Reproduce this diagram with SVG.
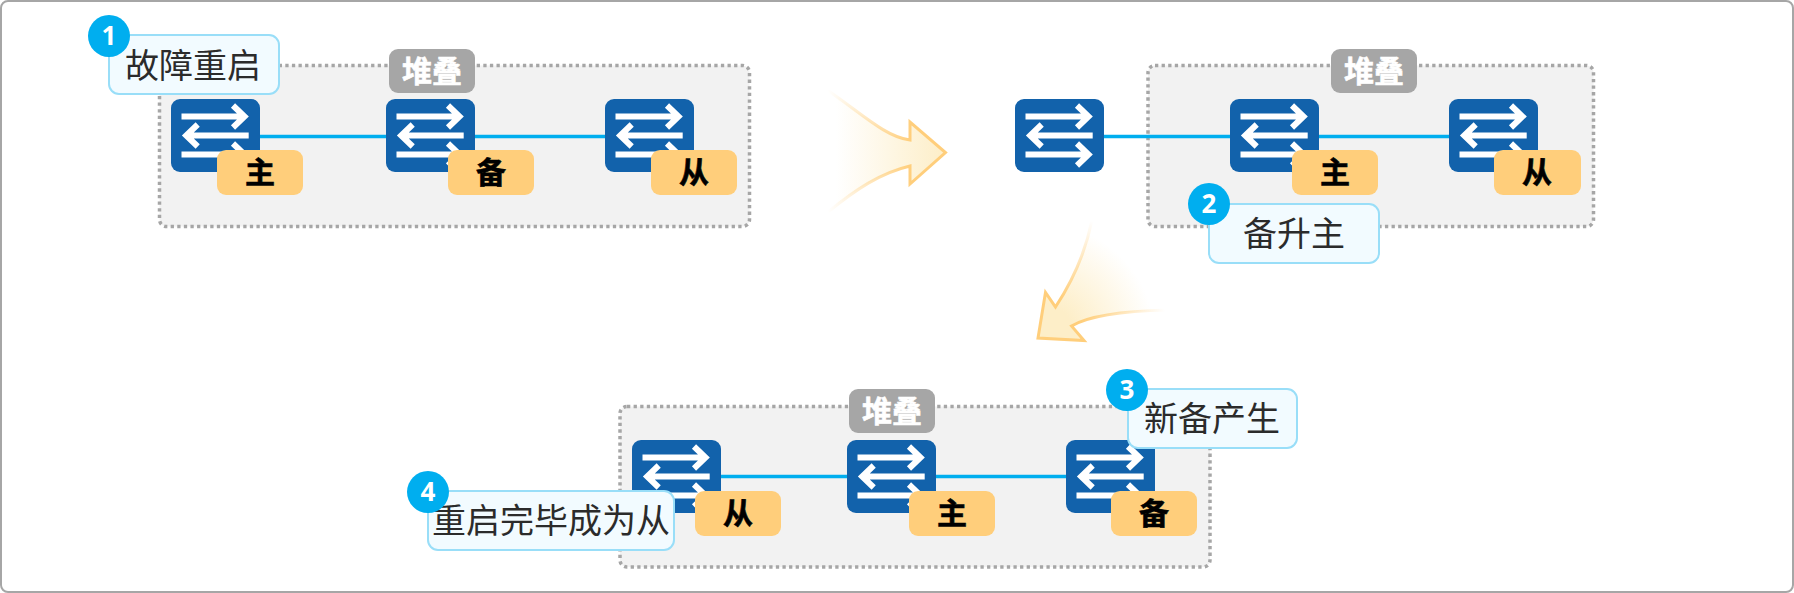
<svg xmlns="http://www.w3.org/2000/svg" width="1794" height="593" viewBox="0 0 1794 593">
<style>
.frame{fill:#fff;stroke:#a6a6a6;stroke-width:2}
.stack{fill:#f2f2f2;stroke:#a6a6a6;stroke-width:3.500;stroke-dasharray:3.300 3.300}
.link{stroke:#00aeef;stroke-width:3.600;fill:none}
.sw{fill:#1262ab}
.swl{stroke:#fff;stroke-width:6;fill:none}
.tag{fill:#ffce7b}
.tagt{font:bold 30px "Noto Sans CJK SC","Liberation Sans",sans-serif;fill:#000;stroke:#000;stroke-width:.6;text-anchor:middle}
.lab{fill:#a6a6a6}
.labt{font:bold 30px "Noto Sans CJK SC","Liberation Sans",sans-serif;fill:#fff;stroke:#fff;stroke-width:.6;text-anchor:middle}
.call{fill:#f2fbff;stroke:#99def8;stroke-width:2}
.callt{font:34px "Noto Sans CJK SC","Liberation Sans",sans-serif;fill:#2b2b2b;text-anchor:middle}
.num{fill:#00aeef}
.numt{font:bold 26px "Open Sans","Liberation Sans",sans-serif;fill:#fff;text-anchor:middle}
</style>
<defs>
<g id="swi">
<rect class="sw" width="89" height="73" rx="9"/>
<path class="swl" d="M10.500 17.500H73.500M62 6.500L73.500 17.500L62 28.500"/>
<path class="swl" d="M77.700 36.500H15.200M26.700 25.500L15.200 36.500L26.700 47.500"/>
<path class="swl" d="M10.500 55.500H73.500M62 44.500L73.500 55.500L62 66.500"/>
</g>
<linearGradient id="g1f" gradientUnits="userSpaceOnUse" x1="836" y1="0" x2="945" y2="0"><stop offset="0" stop-color="#fdeec8" stop-opacity="0"/><stop offset="1" stop-color="#fdeec8"/></linearGradient>
<linearGradient id="g1s" gradientUnits="userSpaceOnUse" x1="828" y1="0" x2="912" y2="0"><stop offset="0" stop-color="#ffce7b" stop-opacity="0"/><stop offset="1" stop-color="#ffce7b"/></linearGradient>
<radialGradient id="g2f" gradientUnits="userSpaceOnUse" cx="1040" cy="338" r="115"><stop offset="0" stop-color="#fdeec8"/><stop offset=".3" stop-color="#fdeec8"/><stop offset="1" stop-color="#fdeec8" stop-opacity="0"/></radialGradient>
<radialGradient id="g2s" gradientUnits="userSpaceOnUse" cx="1040" cy="338" r="128"><stop offset="0" stop-color="#ffce7b"/><stop offset=".35" stop-color="#ffce7b"/><stop offset="1" stop-color="#ffce7b" stop-opacity="0"/></radialGradient>
</defs>
<rect class="frame" x="1" y="1" width="1792" height="591" rx="7"/>

<g id="arrow-1"><path d="M827 90C860 112 885 137 910 140V122L945.500 152.500L910 184V166C880 173 855 190 828 212Z" fill="url(#g1f)" stroke="none"/>
<path d="M827 90C860 112 885 137 910 140V122L945.500 152.500L910 184V166C880 173 855 190 828 212" fill="none" stroke="url(#g1s)" stroke-width="3"/></g>
<g id="arrow-2"><path d="M1092 220C1085 255 1072 282 1055.500 307L1045.500 292.500L1038 338L1084 340.500L1071.500 326C1090 315 1125 311 1167 310Z" fill="url(#g2f)" stroke="none"/>
<path d="M1092 220C1085 255 1072 282 1055.500 307L1045.500 292.500L1038 338L1084 340.500L1071.500 326C1090 315 1125 311 1167 310" fill="none" stroke="url(#g2s)" stroke-width="3"/></g>

<g id="stack-1"><rect class="stack" x="159.500" y="65.500" width="590" height="161" rx="7"/></g>
<g id="stack-2"><rect class="stack" x="1148" y="65.500" width="445.500" height="161" rx="7"/></g>
<g id="stack-3"><rect class="stack" x="620" y="406.500" width="590" height="160.500" rx="7"/></g>

<g id="connectors">
<path class="link" d="M171 136.500H650"/>
<path class="link" d="M1015 136.500H1449"/>
<path class="link" d="M632 476.500H1066"/>
</g>

<g id="sw-1a"><use href="#swi" x="171" y="99"/></g>
<g id="sw-1b"><use href="#swi" x="386" y="99"/></g>
<g id="sw-1c"><use href="#swi" x="605" y="99"/></g>
<g id="sw-2a"><use href="#swi" x="1015" y="99"/></g>
<g id="sw-2b"><use href="#swi" x="1230" y="99"/></g>
<g id="sw-2c"><use href="#swi" x="1449" y="99"/></g>
<g id="sw-3a"><use href="#swi" x="632" y="440"/></g>
<g id="sw-3b"><use href="#swi" x="847" y="440"/></g>
<g id="sw-3c"><use href="#swi" x="1066" y="440"/></g>

<g id="label-1"><rect class="lab" x="389" y="49" width="86" height="44" rx="9"/><text class="labt" x="432" y="82">堆叠</text></g>
<g id="label-2"><rect class="lab" x="1331" y="49" width="86" height="44" rx="9"/><text class="labt" x="1374" y="82">堆叠</text></g>
<g id="label-3"><rect class="lab" x="849" y="389" width="86" height="44" rx="9"/><text class="labt" x="892" y="422">堆叠</text></g>

<g id="tag-1a"><rect class="tag" x="217" y="150" width="86" height="45" rx="9"/><text class="tagt" x="260" y="183">主</text></g>
<g id="tag-1b"><rect class="tag" x="448" y="150" width="86" height="45" rx="9"/><text class="tagt" x="491" y="183">备</text></g>
<g id="tag-1c"><rect class="tag" x="651" y="150" width="86" height="45" rx="9"/><text class="tagt" x="694" y="183">从</text></g>
<g id="tag-2a"><rect class="tag" x="1292" y="150" width="86" height="45" rx="9"/><text class="tagt" x="1335" y="183">主</text></g>
<g id="tag-2b"><rect class="tag" x="1494" y="150" width="87" height="45" rx="9"/><text class="tagt" x="1537" y="183">从</text></g>
<g id="tag-3a"><rect class="tag" x="695" y="491" width="86" height="45" rx="9"/><text class="tagt" x="738" y="524">从</text></g>
<g id="tag-3b"><rect class="tag" x="909" y="491" width="86" height="45" rx="9"/><text class="tagt" x="952" y="524">主</text></g>
<g id="tag-3c"><rect class="tag" x="1111" y="491" width="86" height="45" rx="9"/><text class="tagt" x="1154" y="524">备</text></g>

<g id="callout-1"><rect class="call" x="109" y="35" width="170" height="59" rx="10"/><text class="callt" x="193" y="78">故障重启</text><circle class="num" cx="109" cy="36" r="21"/><text class="numt" x="109" y="45">1</text></g>
<g id="callout-2"><rect class="call" x="1209" y="204" width="170" height="59" rx="10"/><text class="callt" x="1294" y="246">备升主</text><circle class="num" cx="1209" cy="204" r="21"/><text class="numt" x="1209" y="213">2</text></g>
<g id="callout-3"><rect class="call" x="1128" y="389" width="169" height="59" rx="10"/><text class="callt" x="1212" y="431">新备产生</text><circle class="num" cx="1127" cy="390" r="21"/><text class="numt" x="1127" y="399">3</text></g>
<g id="callout-4"><rect class="call" x="428" y="491" width="246" height="59" rx="10"/><text class="callt" x="551" y="533">重启完毕成为从</text><circle class="num" cx="428" cy="492" r="21"/><text class="numt" x="428" y="501">4</text></g>
</svg>
